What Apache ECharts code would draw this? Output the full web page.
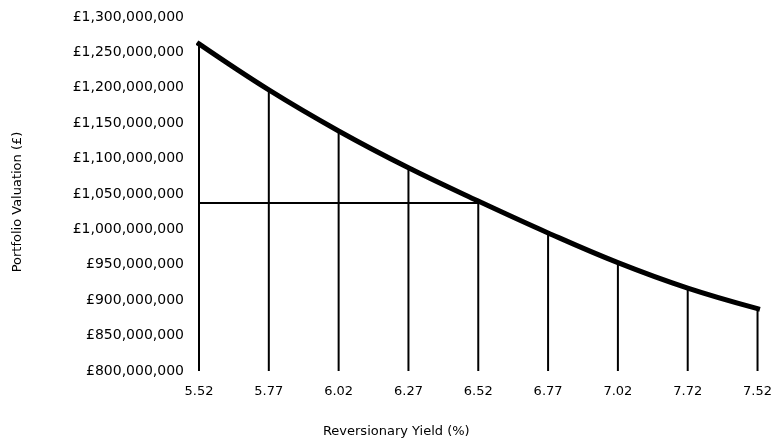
<!DOCTYPE html>
<html>
<head>
<meta charset="utf-8">
<script src="https://cdn.jsdelivr.net/npm/echarts@6/dist/echarts.min.js"></script>
<style>
  html, body {margin: 0; padding: 0; background: #fff;}
  #main {width: 775px; height: 443px;}
</style>
</head>
<body>
<div id="main"></div>
<script>
// yields (x labels as printed, incl. the 7.72 typo) and valuations
var yieldLabels = ['5.52', '5.77', '6.02', '6.27', '6.52', '6.77', '7.02', '7.72', '7.52'];
var valuations = [1262000000, 1197000000, 1139000000, 1087000000, 1040000000, 995000000, 953000000, 917000000, 888000000];
// horizontal reference from the axis to the 6.52 point
var refYield = '6.52';
var refValue = 1038000000;
var yMin = 800000000, yMax = 1300000000, yStep = 50000000;

function money(v) {
    return '£' + String(v).replace(/\B(?=(\d{3})+(?!\d))/g, ',');
}

var fontFam = 'DejaVu Sans';

var option = {
    animation: false,
    grid: {left: 199, right: 15, top: 17, bottom: 71},
    xAxis: {
        type: 'category',
        boundaryGap: false,
        data: yieldLabels,
        axisLine: {show: false},
        axisTick: {show: false},
        axisLabel: {margin: 14, color: '#000', fontSize: 13, fontFamily: fontFam},
        name: 'Reversionary Yield (%)',
        nameLocation: 'middle',
        nameGap: 54,
        nameTextStyle: {color: '#000', fontSize: 13, fontFamily: fontFam, padding: [0, 164, 0, 0]}
    },
    yAxis: {
        type: 'value',
        min: yMin, max: yMax, interval: yStep,
        axisLine: {show: false},
        axisTick: {show: false},
        splitLine: {show: false},
        axisLabel: {margin: 15, color: '#000', fontSize: 14, fontFamily: fontFam, formatter: money},
        name: 'Portfolio Valuation (£)',
        nameLocation: 'middle',
        nameGap: 175,
        nameTextStyle: {color: '#000', fontSize: 13, fontFamily: fontFam, padding: [0, 16, 0, 0]}
    },
    series: [
        {
            // drop lines
            type: 'bar',
            data: valuations,
            barWidth: 2,
            itemStyle: {color: '#000'},
            silent: true,
            z: 2
        },
        {
            type: 'line',
            data: valuations,
            symbol: 'none',
            smooth: 0.4,
            lineStyle: {color: '#000', width: 5, cap: 'square'},
            z: 3,
            markLine: {
                silent: true,
                symbol: ['none', 'none'],
                label: {show: false},
                lineStyle: {color: '#000', width: 2, type: 'solid'},
                data: [[{coord: [yieldLabels[0], refValue]}, {coord: [refYield, refValue]}]]
            }
        }
    ]
};

var myChart = echarts.init(document.getElementById('main'));
myChart.setOption(option);
</script>
</body>
</html>
